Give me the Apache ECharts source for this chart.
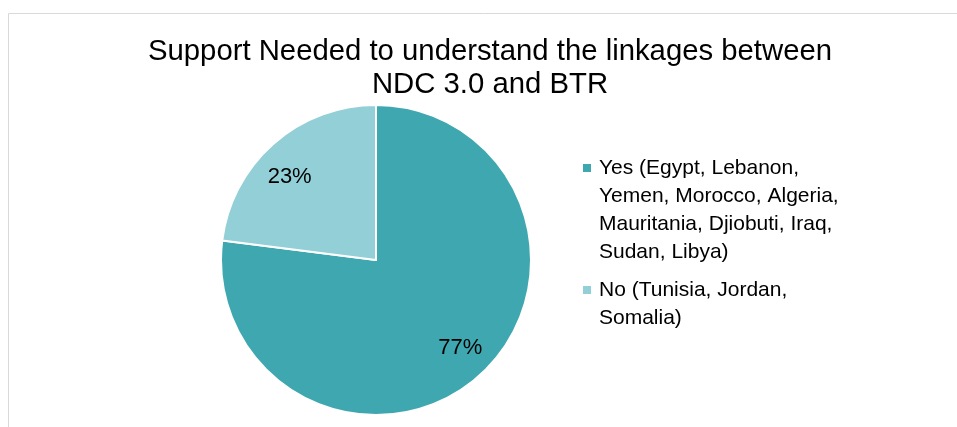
<!DOCTYPE html>
<html>
<head>
<meta charset="utf-8">
<script src="https://cdn.jsdelivr.net/npm/echarts@6/dist/echarts.min.js"></script>
<style>
  html, body { margin: 0; padding: 0; background: #fff; }
  #chart { width: 957px; height: 427px; }
</style>
</head>
<body>
<div id="chart"></div>
<script>
// Survey answers: share of countries needing support (percent)
const categories = [
  'Yes (Egypt, Lebanon,\nYemen, Morocco, Algeria,\nMauritania, Djiobuti, Iraq,\nSudan, Libya)',
  'No (Tunisia, Jordan,\nSomalia)'
];
const shares = [77, 23];
const sliceColors = ['#3EA7B0', '#92CFD6'];

const FONT = "'Liberation Sans', Arial, sans-serif";
const LINE_H = 28;

// Square legend marker sitting on the first text line of a multi-line entry
function markerFor(lines) {
  const h = lines * LINE_H;
  return 'path://M0,0H8M0,10H8V18H0ZM0,' + h + 'H8';
}

const pieData = categories.map((name, i) => ({
  name: name,
  value: shares[i],
  itemStyle: { color: sliceColors[i] }
}));

// small nudges of the percentage labels off the slice mid-line
const labelNudges = [[2, -5], [-4, 10]];

function legendFor(idx, top) {
  const lines = categories[idx].split('\n').length;
  return {
    data: [{ name: categories[idx], icon: markerFor(lines) }],
    orient: 'vertical',
    left: 578,
    top: top,
    itemWidth: 8,
    itemHeight: lines * LINE_H,
    itemStyle: { borderWidth: 0 },
    selectedMode: false,
    textStyle: {
      fontFamily: FONT,
      fontSize: 21,
      lineHeight: LINE_H,
      color: '#000',
      padding: [0, 0, 0, 3]
    }
  };
}

const chart = echarts.init(document.getElementById('chart'), null, { renderer: 'canvas' });
chart.setOption({
  animation: false,
  backgroundColor: '#fff',
  graphic: [{
    type: 'rect',
    shape: { x: 8.5, y: 13.5, width: 1200, height: 800 },
    style: { fill: 'none', stroke: '#d9d9d9', lineWidth: 1 },
    silent: true
  }],
  title: {
    text: 'Support Needed to understand the linkages between\nNDC 3.0 and BTR',
    left: 485,
    top: 30,
    textAlign: 'center',
    textStyle: {
      fontFamily: FONT,
      fontSize: 29.3,
      fontWeight: 'normal',
      lineHeight: 33,
      color: '#000'
    }
  },
  legend: [legendFor(0, 149), legendFor(1, 271)],
  series: [
    {
      type: 'pie',
      center: [376, 260],
      radius: [0, 155],
      startAngle: 90,
      clockwise: true,
      data: pieData,
      label: { show: false },
      labelLine: { show: false },
      itemStyle: { borderColor: '#fff', borderWidth: 2 },
      emphasis: { disabled: true }
    },
    {
      // percentage labels placed part-way out along each slice
      type: 'pie',
      center: [376, 260],
      radius: [88, 155],
      startAngle: 90,
      clockwise: true,
      silent: true,
      legendHoverLink: false,
      data: pieData.map(d => ({ name: d.name, value: d.value })),
      itemStyle: { color: 'rgba(0,0,0,0)', borderWidth: 0 },
      label: {
        show: true,
        position: 'inside',
        formatter: p => p.value + '%',
        fontFamily: FONT,
        fontSize: 22,
        color: '#000'
      },
      labelLayout: p => ({ dx: labelNudges[p.dataIndex][0], dy: labelNudges[p.dataIndex][1] }),
      labelLine: { show: false },
      emphasis: { disabled: true }
    }
  ]
});
</script>
</body>
</html>
